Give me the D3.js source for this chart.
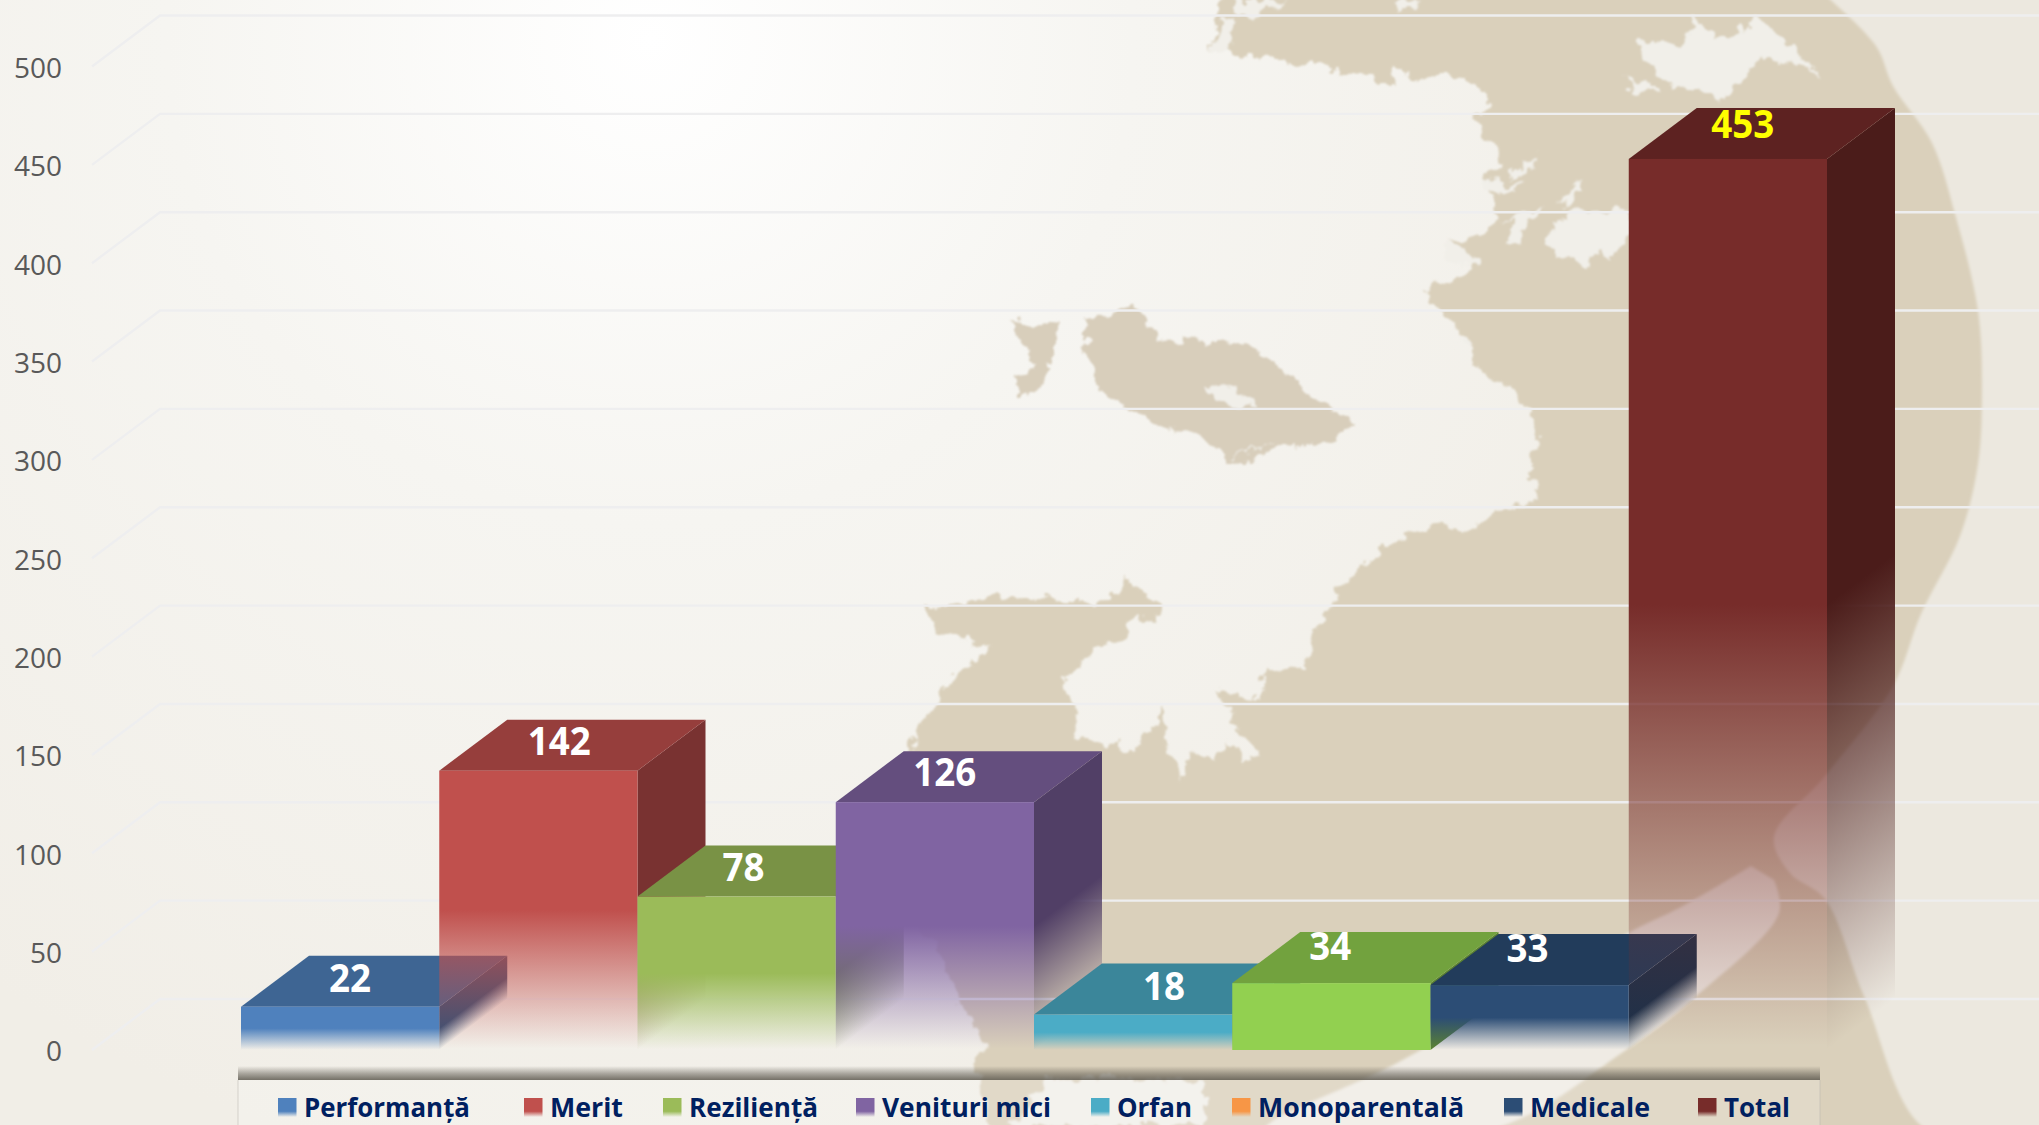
<!DOCTYPE html>
<html><head><meta charset="utf-8">
<style>html,body{margin:0;padding:0;background:#f3f1eb}svg{display:block}</style>
<script src="https://cdn.jsdelivr.net/npm/d3@7/dist/d3.min.js"></script>
</head><body><div id="c"></div>
<script>
// ---- data ----
const categories = ["Performanță","Merit","Reziliență","Venituri mici","Orfan","Monoparentală","Medicale","Total"];
const values = [22,142,78,126,18,34,33,453];
const barColors = ["#4f81bd","#c0504d","#9bbb59","#8064a2","#4bacc6","#92d050","#2c4d75","#772c2a"];
const legendColors = ["#4f81bd","#c0504d","#9bbb59","#8064a2","#4bacc6","#f79646","#2c4d75","#772c2a"];
const fades = [true,true,true,true,true,false,true,true];
const yTicks = [0,50,100,150,200,250,300,350,400,450,500];

// ---- layout ----
const W=2039,H=1125, dx=68, dy=51;
const y=d3.scaleLinear().domain([0,500]).range([1050,66.5]);
const x=d3.scaleBand().domain(categories).range([241,1827]).padding(0);
const labelNudge=[109,120,106,109,130,98,97,114];
const labelLift=[29,30,30,30,29,37,37,35];
const legendLeft=[278,524,663,856,1091,1232,1504,1698];
const legendTextW=[166,73,129,169,75,206,120,66];

const svg=d3.select("#c").append("svg").attr("width",W).attr("height",H).attr("viewBox",[0,0,W,H]);
const defs=svg.append("defs");

// ---- background decoration ----
const rg=defs.append("radialGradient").attr("id","sea").attr("gradientUnits","userSpaceOnUse")
  .attr("cx",650).attr("cy",40).attr("r",1150);
rg.append("stop").attr("offset",0).attr("stop-color","#ffffff");
rg.append("stop").attr("offset",.42).attr("stop-color","#f6f5f1");
rg.append("stop").attr("offset",1).attr("stop-color","#f1eee7");
const rough=defs.append("filter").attr("id","rough").attr("x",0).attr("y",0).attr("width",1).attr("height",1);
rough.append("feTurbulence").attr("type","fractalNoise").attr("baseFrequency",.07).attr("numOctaves",3).attr("seed",7).attr("result","n");
rough.append("feDisplacementMap").attr("in","SourceGraphic").attr("in2","n").attr("scale",20).attr("xChannelSelector","R").attr("yChannelSelector","G").attr("result","d");
rough.append("feGaussianBlur").attr("in","d").attr("stdDeviation",.9);
defs.append("filter").attr("id","soft").append("feGaussianBlur").attr("stdDeviation",1.4);

const z5=p=>[1150+p[0]/1.764,p[1]/2.8], z7=p=>[880+p[0]/3,550+p[1]/3], o=p=>[p[0]*1.3004,p[1]*1.3004], r=p=>p;
const land=[
 ...[[1229,-20],[2039,-20],[2039,1145],[1000,1145],[975,1072],[985,1045],[960,1000],[935,945],[905,900],[905,800]].map(r),
 ...[[90,590],[190,410],[330,290],[170,250],[130,170],[400,135],[600,160],[690,150],[740,80],[830,160],[835,220],[770,195],[700,280],[620,320],[560,400],[600,560],[650,570],[680,600],[720,570],[750,600],[800,560],[850,480],[870,600],[900,700],[940,600],[1000,640],[1030,570],[1100,640],[1130,620],[1050,480],[1010,420],[1070,440],[1130,450],[1150,370],[1200,350],[1280,350],[1300,240],[1350,170],[1400,80],[1450,50],[1500,0]].map(z7),
 ...[[440,1510],[510,1470],[570,1490],[610,1430],[680,1400],[670,1290],[690,1220],[670,1150],[640,1090],[580,1040],[560,960],[530,900],[510,865],[490,830],[490,810],[570,750],[525,720],[520,680],[600,650],[610,580],[590,520],[585,490],[620,470],[610,420],[580,370],[570,330],[600,300],[590,260],[550,205],[500,215],[470,235],[435,185],[430,240],[380,210],[340,205],[300,180],[250,185],[210,155],[170,170],[130,130],[105,150],[130,-20]].map(z5)
];
const ocean=[[1825,-5],[1876,46],[1893,86],[1932,143],[1955,214],[1978,311],[1982,393],[1978,464],[1960,536],[1921,614],[1893,686],[1825,776],[1774,837],[1790,873],[1825,899],[1864,996],[1927,1130],[2045,1130],[2045,-5]];
const band=[[1751,866],[1683,906],[1632,931],[1397,1063],[1265,1130],[1490,1130],[1626,1050],[1694,998],[1779,913],[1774,880]];
const lakes=[
 [[860,110],[940,130],[960,50],[1000,110],[1075,50],[1180,210],[1130,170],[1080,160],[1010,280],[920,240],[870,170]].map(z5),
 [[840,220],[880,235],[905,262],[860,262]].map(z5),
 [[630,490],[690,430],[680,460],[640,500]].map(z5),
 [[580,500],[660,520],[610,545],[585,530]].map(z5),
 [[715,570],[770,490],[745,570]].map(z5),
 [[610,630],[690,575],[640,690],[625,690],[640,620]].map(z5),
 [[700,660],[740,590],[845,585],[845,660],[810,730],[800,690],[770,750],[745,720],[715,720]].map(z5),
 [[520,680],[560,700],[580,750],[545,745],[520,720]].map(z5),
 [[130,50],[150,50],[140,130],[105,150]].map(z5),
 [[150,0],[240,0],[180,50],[150,30]].map(z5),
 [[430,0],[470,0],[460,25],[435,30]].map(z5),
 [[540,950],[570,960],[560,975]].map(z5),
 [[1050,1080],[1100,1078],[1205,1080],[1205,1125],[1010,1125]].map(r)
];
const isles=[
 [[835,245],[860,240],[875,235],[890,262],[930,262],[960,265],[985,285],[1005,300],[1025,318],[1043,325],[1025,340],[985,343],[945,357],[925,337],[890,325],[870,315],[845,300],[835,270]].map(o),
 [[778,247],[815,250],[810,270],[803,295],[785,307],[781,292],[797,282]].map(o)
];
const isleLakes=[[[925,298],[945,296],[970,312],[945,315]].map(o),[[945,352],[985,338],[955,350]].map(o)];
const bg=svg.append("g");
const poly=d3.line(), smooth=d3.line().curve(d3.curveCatmullRom);
bg.append("rect").attr("width",W).attr("height",H).attr("fill","url(#sea)");
const bgs=bg.append("g").attr("filter","url(#rough)");
bgs.append("rect").attr("width",W).attr("height",H).attr("fill","none");
bgs.append("path").attr("d",poly(land)+"Z").attr("fill","#dad0bb");
bgs.selectAll(".isle").data(isles).join("path").attr("d",d=>poly(d)+"Z").attr("fill","#d8cebb");
bgs.selectAll(".lk").data(lakes.concat(isleLakes)).join("path").attr("d",d=>poly(d)+"Z").attr("fill","#f1efe9");
const bgc=bg.append("g").attr("filter","url(#soft)");
bgc.append("path").attr("d",smooth(ocean)+"Z").attr("fill","#ece8df");
bgc.append("path").attr("d",smooth(band)+"Z").attr("fill","#efebe4");

// ---- gridlines ----
const grid=svg.append("g").attr("fill","none").attr("stroke","#eeeeef").attr("stroke-width",2.4);
grid.selectAll("path").data(yTicks).join("path")
  .attr("d",v=>{const Y=y(v);return d3.line()([[92,Y],[92+dx,Y-dy],[W,Y-dy]]);});

// ---- axis ----
const axis=svg.append("g").attr("transform","translate(62,2)")
  .call(d3.axisLeft(y).tickValues(yTicks).tickSize(0).tickPadding(0));
axis.select(".domain").remove();
axis.selectAll("text").attr("font-family","'Open Sans'").attr("font-size",28).attr("fill","#595959");

// ---- gradients ----
function fadeGrad(id,color,start,end){
  const g=defs.append("linearGradient").attr("id",id).attr("x1",0).attr("x2",0).attr("y1",0).attr("y2",1);
  g.append("stop").attr("offset",start).attr("stop-color",color).attr("stop-opacity",1);
  g.append("stop").attr("offset",end).attr("stop-color",color).attr("stop-opacity",0);
}
const shade=(c,k)=>{const h=d3.rgb(c);return d3.rgb(h.r*k,h.g*k,h.b*k).formatHex();};

// ---- bars ----
const bars=svg.append("g");
categories.forEach((cat,i)=>{
  const v=values[i],X=x(cat),BW=x.bandwidth(),Y=y(v),Y0=y(0),c=barColors[i],g=bars.append("g");
  const sideC=shade(c,.63),topC=shade(c,.78);
  const k=dy/dx;
  if(fades[i]){fadeGrad("side"+i,sideC,.5,1);fadeGrad("front"+i,c,.5,.995);}
  g.append("rect").attr("x",X+BW).attr("y",Y+k*(X+BW)).attr("width",dx).attr("height",Y0-Y)
    .attr("transform",`matrix(1,${-k},0,1,0,0)`)
    .attr("fill",fades[i]?`url(#side${i})`:sideC);
  g.append("path").attr("d",d3.line()([[X,Y],[X+dx,Y-dy],[X+BW+dx,Y-dy],[X+BW,Y]])+"Z").attr("fill",topC);
  g.append("rect").attr("x",X).attr("y",Y).attr("width",BW).attr("height",Y0-Y)
    .attr("fill",fades[i]?`url(#front${i})`:c);
});

// ---- value labels ----
svg.append("g").selectAll("text").data(values).join("text")
  .attr("x",(d,i)=>x(categories[i])+labelNudge[i])
  .attr("y",(d,i)=>y(d)-labelLift[i])
  .attr("dy","0.36em").attr("text-anchor","middle")
  .attr("font-family","'Open Sans'").attr("font-weight",700).attr("font-size",39)
  .attr("textLength",d=>String(d).length*21).attr("lengthAdjust","spacingAndGlyphs")
  .attr("fill",(d,i)=>i===values.length-1?"#ffff00":"#ffffff")
  .text(d=>d);

// ---- legend ----
const sh=defs.append("linearGradient").attr("id","lsh").attr("x1",0).attr("x2",0).attr("y1",0).attr("y2",1);
sh.append("stop").attr("offset",0).attr("stop-color","#5e5a50").attr("stop-opacity",0);
sh.append("stop").attr("offset",.55).attr("stop-color","#5e5a50").attr("stop-opacity",.5);
sh.append("stop").attr("offset",1).attr("stop-color","#5e5a50").attr("stop-opacity",.85);
const lg=svg.append("g");
lg.append("rect").attr("x",238).attr("y",1066).attr("width",1582).attr("height",14).attr("fill","url(#lsh)");
lg.append("rect").attr("x",238).attr("y",1080).attr("width",1582).attr("height",45).attr("fill","#ffffff").attr("fill-opacity",.2);
lg.append("line").attr("x1",238).attr("x2",238).attr("y1",1080).attr("y2",H).attr("stroke","#b9b5ab").attr("stroke-opacity",.5);
lg.append("line").attr("x1",1820).attr("x2",1820).attr("y1",1080).attr("y2",H).attr("stroke","#b9b5ab").attr("stroke-opacity",.5);
categories.forEach((cat,i)=>{
  fadeGrad("sw"+i,legendColors[i],.7,1);
  lg.append("rect").attr("x",legendLeft[i]).attr("y",1098).attr("width",18.5).attr("height",19).attr("fill",`url(#sw${i})`);
  lg.append("text").attr("x",legendLeft[i]+26).attr("y",1117)
    .attr("font-family","'Open Sans'").attr("font-weight",700).attr("font-size",27).attr("fill","#002060")
    .attr("textLength",legendTextW[i]).attr("lengthAdjust","spacingAndGlyphs").text(cat);
});
</script></body></html>
